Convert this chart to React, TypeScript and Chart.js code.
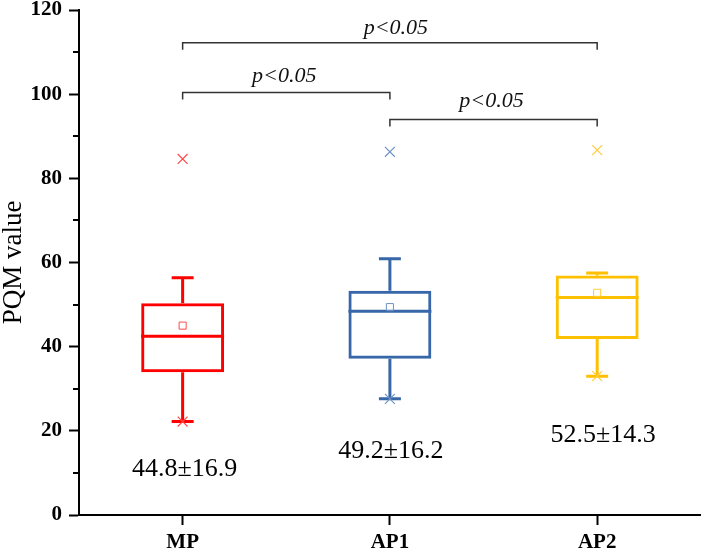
import React, { useEffect, useRef } from 'react';
import { Chart, registerables } from 'chart.js';

Chart.register(...registerables);

// ---- data ----
const categories = ['MP', 'AP1', 'AP2'];
const q1Values = [33.9, 37.1, 41.8];
const q3Values = [50.3, 53.3, 56.9];
const medianValues = [42.5, 48.4, 51.7];
const whiskerLow = [22.2, 27.6, 33.0];
const whiskerHigh = [56.4, 60.9, 57.5];
const meanValues = [45.0, 49.4, 52.8];
const outlierValues = [84.6, 86.3, 86.7];
const meanLabels = ['44.8±16.9', '49.2±16.2', '52.5±14.3'];
const meanLabelY = [9.3, 13.5, 17.4];
const yTicks = [0, 20, 40, 60, 80, 100, 120];
const yMinorTicks = [10, 30, 50, 70, 90, 110];

const bracketFrom = [0, 0, 1];
const bracketTo = [2, 1, 2];
const bracketY = [112.2, 100.4, 94.0];
const bracketText = ['p<0.05', 'p<0.05', 'p<0.05'];
const bracketTextY = [114.3, 102.9, 96.9];

// ---- styles ----
const colors = ['#FF0000', '#3767A9', '#FFC000'];
const lightColors = ['#FF4A4A', '#6F92C6', '#FFCB3A'];
const meanLabelShift = [2, 1, 6];
const bracketTextShift = [6, -2, -2];
const SERIF = "'Liberation Serif', 'Times New Roman', serif";

const boxExtras = {
  id: 'boxExtras',
  beforeDatasetsDraw(chart: any) {
    const { ctx, scales } = chart;
    const x = scales.x;
    const y = scales.y;
    const step = x.getPixelForValue(1) - x.getPixelForValue(0);
    const boxHalf = step * 0.2;
    const capHalf = step * 0.053;
    ctx.save();
    ctx.lineWidth = 3;
    ctx.lineCap = 'butt';
    categories.forEach((_, i) => {
      const cx = x.getPixelForValue(i);
      ctx.strokeStyle = colors[i];
      const yq1 = y.getPixelForValue(q1Values[i]);
      const yq3 = y.getPixelForValue(q3Values[i]);
      const ylo = y.getPixelForValue(whiskerLow[i]);
      const yhi = y.getPixelForValue(whiskerHigh[i]);
      const ymed = y.getPixelForValue(medianValues[i]);
      ctx.beginPath();
      ctx.moveTo(cx, yq3);
      ctx.lineTo(cx, yhi);
      ctx.moveTo(cx, yq1);
      ctx.lineTo(cx, ylo);
      ctx.moveTo(cx - capHalf, yhi);
      ctx.lineTo(cx + capHalf, yhi);
      ctx.moveTo(cx - capHalf, ylo);
      ctx.lineTo(cx + capHalf, ylo);
      ctx.moveTo(cx - boxHalf, ymed);
      ctx.lineTo(cx + boxHalf, ymed);
      ctx.stroke();
    });
    ctx.restore();
  },
  afterDraw(chart: any) {
    const { ctx, scales, chartArea } = chart;
    const x = scales.x;
    const y = scales.y;
    ctx.save();
    // minor y ticks
    ctx.strokeStyle = '#000';
    ctx.lineWidth = 2;
    ctx.beginPath();
    yMinorTicks.forEach((v) => {
      const py = Math.round(y.getPixelForValue(v));
      ctx.moveTo(chartArea.left - 6, py);
      ctx.lineTo(chartArea.left, py);
    });
    ctx.stroke();

    // significance brackets
    ctx.strokeStyle = '#333';
    ctx.lineWidth = 1.5;
    ctx.fillStyle = '#111';
    ctx.font = `italic 22px ${SERIF}`;
    ctx.textAlign = 'center';
    ctx.textBaseline = 'alphabetic';
    bracketFrom.forEach((f, k) => {
      const x1 = x.getPixelForValue(f);
      const x2 = x.getPixelForValue(bracketTo[k]);
      const py = y.getPixelForValue(bracketY[k]);
      ctx.beginPath();
      ctx.moveTo(x1, py + 7);
      ctx.lineTo(x1, py);
      ctx.lineTo(x2, py);
      ctx.lineTo(x2, py + 7);
      ctx.stroke();
      ctx.fillText(
        bracketText[k],
        (x1 + x2) / 2 + bracketTextShift[k],
        y.getPixelForValue(bracketTextY[k])
      );
    });

    // mean ± sd labels
    ctx.fillStyle = '#000';
    ctx.font = `26px ${SERIF}`;
    meanLabels.forEach((t, i) => {
      ctx.fillText(t, x.getPixelForValue(i) + meanLabelShift[i], y.getPixelForValue(meanLabelY[i]));
    });
    ctx.restore();
  },
};

export default function App() {
  const canvasRef = useRef<HTMLCanvasElement | null>(null);

  useEffect(() => {
    document.body.style.margin = '0';
    const canvas = canvasRef.current;
    if (!canvas) return;
    const chart = new Chart(canvas, {
      type: 'bar',
      data: {
        labels: categories,
        datasets: [
          {
            type: 'line',
            label: 'mean',
            data: meanValues,
            showLine: false,
            pointStyle: 'rect',
            pointRadius: 5,
            pointBorderWidth: 1,
            pointBackgroundColor: 'rgba(0,0,0,0)',
            pointBorderColor: lightColors,
            order: 0,
          } as any,
          {
            type: 'line',
            label: 'outliers',
            data: outlierValues,
            showLine: false,
            pointStyle: 'crossRot',
            pointRadius: 7,
            pointBorderWidth: 1.2,
            pointBorderColor: lightColors,
            order: 1,
          } as any,
          {
            type: 'line',
            label: 'min',
            data: whiskerLow,
            showLine: false,
            pointStyle: 'crossRot',
            pointRadius: 7,
            pointBorderWidth: 1.2,
            pointBorderColor: lightColors,
            order: 2,
          } as any,
          {
            type: 'bar',
            label: 'box',
            data: categories.map((_, i) => [q1Values[i], q3Values[i]]),
            backgroundColor: 'rgba(0,0,0,0)',
            borderColor: colors,
            borderWidth: 3,
            borderSkipped: false,
            barPercentage: 0.4,
            categoryPercentage: 1,
            order: 3,
          } as any,
        ],
      },
      options: {
        responsive: false,
        animation: false,
        devicePixelRatio: 1,
        layout: { padding: { top: 10, right: 0, bottom: 0, left: 0 } },
        plugins: {
          legend: { display: false },
          tooltip: { enabled: false },
        },
        scales: {
          x: {
            type: 'category',
            offset: true,
            grid: {
              display: true,
              drawOnChartArea: false,
              drawTicks: true,
              tickLength: 10,
              tickColor: '#000',
              tickWidth: 2,
              offset: false,
            },
            border: { display: true, color: '#000', width: 2 },
            ticks: {
              color: '#000',
              font: { family: SERIF, size: 21, weight: 'bold' },
              padding: 5,
            },
            afterFit: (s: any) => {
              s.height = 34;
              s.paddingLeft = 0;
              s.paddingRight = 0;
            },
          },
          y: {
            min: 0,
            max: 120,
            afterBuildTicks: (s: any) => {
              s.ticks = yTicks.map((v) => ({ value: v }));
            },
            grid: {
              display: true,
              drawOnChartArea: false,
              drawTicks: true,
              tickLength: 10,
              tickColor: '#000',
              tickWidth: 2,
            },
            border: { display: true, color: '#000', width: 2 },
            ticks: {
              color: '#000',
              font: { family: SERIF, size: 21, weight: 'bold' },
              padding: 7,
            },
            title: {
              display: true,
              text: 'PQM value',
              color: '#000',
              font: { family: SERIF, size: 27, lineHeight: 1 },
              padding: { top: 0, bottom: 0 },
            },
            afterFit: (s: any) => {
              s.width = 79;
              s.paddingTop = 0;
              s.paddingBottom = 0;
            },
          },
        },
      },
      plugins: [boxExtras],
    } as any);
    return () => chart.destroy();
  }, []);

  return (
    <div style={{ width: 709, height: 549 }}>
      <canvas ref={canvasRef} width={709} height={549} style={{ display: 'block' }} />
    </div>
  );
}
